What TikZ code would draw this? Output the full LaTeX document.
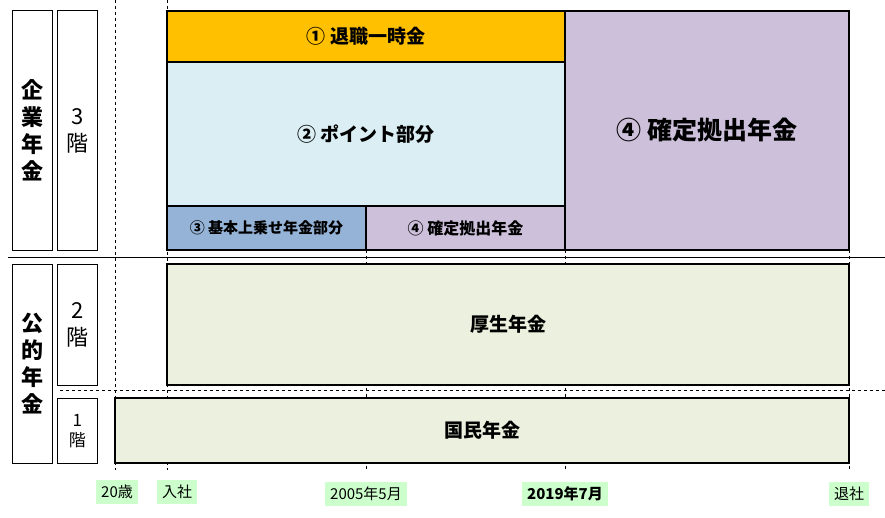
\documentclass[tikz,border=0pt]{standalone}
\usepackage{fontspec}
\setmainfont{Noto Sans CJK JP}
\usetikzlibrary{positioning}
\definecolor{orangebox}{HTML}{FFC000}
\definecolor{bluebox}{HTML}{DAEEF3}
\definecolor{darkblue}{HTML}{95B3D7}
\definecolor{purplebox}{HTML}{CCC0DA}
\definecolor{greenbox}{HTML}{EBF1DE}
\definecolor{labelgreen}{HTML}{CCFFCC}
\tikzset{
  blk/.style={draw, line width=1.2pt, anchor=north west, inner sep=0pt, outer sep=0pt, font=\bfseries\fontsize{19}{22}\selectfont},
  side/.style={draw, line width=0.8pt, anchor=north west, inner sep=0pt, align=center, font=\fontsize{22}{27}\selectfont},
  datebox/.style={fill=labelgreen, inner sep=5pt, font=\fontsize{15}{17}\selectfont},
  guide/.style={dashed, line width=0.7pt}
}
\begin{document}
\begin{tikzpicture}[x=1pt, y=-1pt]
		\useasboundingbox (0,0) rectangle (885,518);
		% guide lines
		\draw[guide] (115,0) -- (115,470);
		\draw[guide] (167,0) -- (167,470);
		\draw[guide] (366,250) -- (366,470);
		\draw[guide] (565,250) -- (565,470);
		\draw[guide] (849,250) -- (849,470);
		\draw[guide] (60,390) -- (885,390);
		\draw[line width=1pt] (8,258) -- (885,258);
		
		% side labels
		\node[side, minimum width=40pt, minimum height=240pt, font=\bfseries\fontsize{22}{27}\selectfont] (corp) at (12,10) {企\\業\\年\\金};
		\node[side, minimum width=40pt, minimum height=240pt] (lv3) at (57,10) {3\\階};
		\node[side, minimum width=40pt, minimum height=199pt, font=\bfseries\fontsize{22}{27}\selectfont] (pub) at (12,264) {公\\的\\年\\金};
		\node[side, minimum width=40pt, minimum height=121pt] (lv2) at (57,264) {2\\階};
		\node[side, minimum width=40pt, minimum height=65pt, font=\fontsize{17}{20}\selectfont] (lv1) at (57,398) {1\\階};
		
		% corporate pension blocks
		\node[blk, fill=orangebox, minimum width=398pt, minimum height=51pt] (lump) at (167,11) {① 退職一時金};
		\node[blk, fill=bluebox, minimum width=398pt, minimum height=144pt] (point) at (167,62) {② ポイント部分};
		\node[blk, fill=darkblue, minimum width=199pt, minimum height=44pt, font=\bfseries\fontsize{15}{17}\selectfont] (base) at (167,206) {③ 基本上乗せ年金部分};
		\node[blk, fill=purplebox, minimum width=199pt, minimum height=44pt, font=\bfseries\fontsize{16}{18}\selectfont] (dcsmall) at (366,206) {④ 確定拠出年金};
		\node[blk, fill=purplebox, line width=2pt, minimum width=284pt, minimum height=239pt, font=\bfseries\fontsize{25}{28}\selectfont] (dcbig) at (565,11) {④ 確定拠出年金};
		
		% public pension blocks
		\node[blk, fill=greenbox, minimum width=682pt, minimum height=121pt] (kosei) at (167,264) {厚生年金};
		\node[blk, fill=greenbox, minimum width=734pt, minimum height=65pt] (kokumin) at (115,398) {国民年金};
		
		% time axis labels
		\node[datebox] (age) at (117,492) {20歳};
		\node[datebox] (join) at (177,492) {入社};
		\node[datebox] (may) at (366,494) {2005年5月};
		\node[datebox, font=\bfseries\fontsize{15}{17}\selectfont] (jul) at (565,494) {2019年7月};
		\node[datebox] (leave) at (849,494) {退社};
\end{tikzpicture}
\end{document}
